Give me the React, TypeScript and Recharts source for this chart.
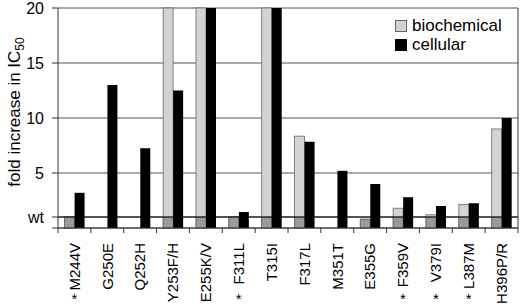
import { BarChart, Bar, XAxis, YAxis, CartesianGrid, ReferenceLine } from 'recharts';

const categories = ['M244V', 'G250E', 'Q252H', 'Y253F/H', 'E255K/V', 'F311L', 'T315I', 'F317L', 'M351T', 'E355G', 'F359V', 'V379I', 'L387M', 'H396P/R'];
// values above 20 are cut at the top of the chart, so they are kept at 20
const biochemical = [1.0, null, null, 20, 20, 1.0, 20, 8.35, null, 0.8, 1.8, 1.2, 2.15, 9.0];
const cellular = [3.2, 13.0, 7.25, 12.5, 20, 1.45, 20, 7.85, 5.2, 4.0, 2.8, 2.0, 2.25, 10.0];
const starred = ['M244V', 'F311L', 'F359V', 'V379I', 'L387M'];
const yTicks = [0, 1, 5, 10, 15, 20];

const data = categories.map((name, i) => ({
  name,
  biochemical: biochemical[i],
  cellular: cellular[i],
}));

const FONT = '"Liberation Sans", Arial, sans-serif';
const BAND = 460 / categories.length;

const BioShape = (props: any) => {
  const { x, y, width, height, payload } = props;
  const v = payload?.biochemical;
  if (v == null || !height || height <= 0) return null;
  const bottom = y + height;
  // part of the bar below the wt level is drawn darker
  const wtY = Math.max(y, bottom - height / v);
  return (
    <g>
      <rect x={x} y={y} width={width} height={height} fill="#d3d3d3" stroke="#666" strokeWidth={0.8} />
      <rect x={x} y={wtY} width={width} height={bottom - wtY} fill="#9a9a9a" stroke="#666" strokeWidth={0.8} />
    </g>
  );
};

const CategoryTick = (props: any) => {
  const { x, y, payload, index } = props;
  const name = payload.value;
  return (
    <g>
      <line x1={x - BAND / 2} y1={y} x2={x - BAND / 2} y2={y + 5} stroke="#333" />
      {index === categories.length - 1 && (
        <line x1={x + BAND / 2} y1={y} x2={x + BAND / 2} y2={y + 5} stroke="#333" />
      )}
      <text
        x={x}
        y={y + 15}
        transform={`rotate(-90, ${x}, ${y + 15})`}
        textAnchor="end"
        dy="0.35em"
        fontSize={15}
        fontFamily={FONT}
        fill="#000"
      >
        {name}
      </text>
      {starred.includes(name) && (
        <text x={x} y={y + 76} textAnchor="middle" fontSize={15} fontFamily={FONT} fill="#000">
          *
        </text>
      )}
    </g>
  );
};

const YLabel = () => (
  <g transform="translate(14, 112) rotate(-90)">
    <text x={0} y={0} textAnchor="middle" dy="0.35em" fontSize={17} fontFamily={FONT} fill="#000">
      fold increase in IC
      <tspan fontSize={12} dy="0.3em">50</tspan>
    </text>
  </g>
);

const legendItems = [
  { label: 'biochemical', fill: '#d3d3d3', border: '#666' },
  { label: 'cellular', fill: '#000', border: '#000' },
];

export default function App() {
  return (
    <div style={{ position: 'absolute', left: 0, top: 0, width: 520, height: 306, background: '#fff' }}>
      <BarChart
        width={520}
        height={306}
        data={data}
        margin={{ top: 8, right: 0, bottom: 0, left: 0 }}
        barCategoryGap="20%"
        barGap={0}
      >
        <CartesianGrid vertical={false} stroke="#555" />
        <XAxis
          dataKey="name"
          interval={0}
          height={78}
          tickLine={false}
          tickSize={0}
          tickMargin={0}
          axisLine={{ stroke: '#333' }}
          tick={<CategoryTick />}
        />
        <YAxis
          domain={[0, 20]}
          ticks={yTicks}
          interval={0}
          width={58}
          tickSize={6}
          tickMargin={8}
          tickFormatter={(v: number) => (v === 0 ? '' : v === 1 ? 'wt' : String(v))}
          tick={{ fontSize: 16, fontFamily: FONT, fill: '#000' }}
          axisLine={{ stroke: '#333' }}
          tickLine={{ stroke: '#333' }}
        />
        <YAxis
          yAxisId="right"
          orientation="right"
          domain={[0, 20]}
          width={2}
          tick={false}
          tickLine={false}
          axisLine={{ stroke: '#333' }}
        />
        <ReferenceLine y={1} stroke="#000" strokeWidth={1.2} />
        <Bar dataKey="biochemical" name="biochemical" shape={<BioShape />} isAnimationActive={false} />
        <Bar dataKey="cellular" name="cellular" fill="#000" isAnimationActive={false} />
        <YLabel />
      </BarChart>
      <div
        style={{
          position: 'absolute',
          left: 395,
          top: 16,
          fontFamily: FONT,
          fontSize: 17,
          lineHeight: '19px',
          color: '#000',
        }}
      >
        {legendItems.map((item) => (
          <div key={item.label} style={{ display: 'flex', alignItems: 'center' }}>
            <span
              style={{
                display: 'inline-block',
                width: 10,
                height: 10,
                background: item.fill,
                border: `1px solid ${item.border}`,
                marginRight: 5,
              }}
            />
            {item.label}
          </div>
        ))}
      </div>
    </div>
  );
}
